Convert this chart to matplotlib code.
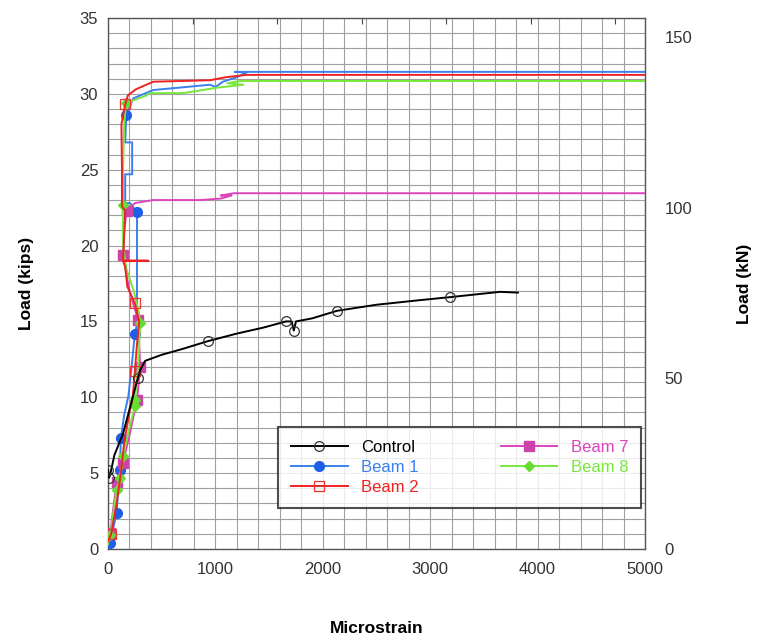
import matplotlib
matplotlib.use("Agg")
import matplotlib.pyplot as plt
import numpy as np

plt.rcParams['font.family'] = ['Liberation Sans', 'DejaVu Sans']

# ---------------- data (microstrain, kips) ----------------
control_x = [0, 10, 20, 60, 140, 200, 260, 280, 300, 345, 500, 700, 930, 1200, 1450,
             1657, 1710, 1730, 1750, 1900, 2132, 2500, 2900, 3184, 3450, 3650, 3817]
control_y = [5.2, 4.7, 4.9, 6.2, 7.6, 9.2, 10.8, 11.3, 11.8, 12.4, 12.8, 13.2, 13.7, 14.2, 14.6,
             15.0, 15.0, 14.4, 15.0, 15.2, 15.7, 16.1, 16.4, 16.6, 16.8, 16.95, 16.9]
control_marks = [0, 1, 7, 12, 15, 17, 20, 23]

beam1_x = [0, 20, 80, 110, 120, 150, 190, 220, 250, 270, 270, 270, 205, 160, 160, 225, 225,
           160, 170, 235, 420, 950, 1000, 1070, 1200, 1290, 1180, 5000]
beam1_y = [0.2, 0.4, 2.4, 5.2, 7.3, 8.8, 10.1, 12.0, 14.2, 14.8, 21.3, 22.2, 22.8, 22.8, 24.7, 24.7, 26.8,
           26.8, 28.6, 29.7, 30.25, 30.6, 30.45, 30.8, 31.1, 31.4, 31.45, 31.45]
beam1_marks = [1, 2, 3, 4, 8, 11, 18]

beam2_x = [0, 30, 80, 120, 150, 200, 230, 250, 270, 290, 250, 180, 160, 140, 375, 140, 150,
           160, 130, 130, 125, 160, 185, 260, 420, 950, 1100, 1290, 5000]
beam2_y = [0.5, 1.0, 3.0, 5.0, 7.0, 9.0, 10.0, 11.7, 13.5, 15.0, 16.2, 17.3, 18.6, 19.0, 19.0, 19.0, 20.5,
           22.3, 22.6, 25.0, 28.0, 29.3, 29.9, 30.3, 30.8, 30.9, 31.1, 31.25, 31.25]
beam2_marks = [1, 7, 10, 21]

beam7_x = [0, 20, 80, 140, 200, 270, 300, 280, 200, 140, 150, 175, 250, 420, 860, 1050, 1150,
           1050, 1170, 5000]
beam7_y = [0.5, 1.05, 4.4, 5.7, 7.5, 9.8, 12.0, 15.1, 17.0, 19.4, 21.0, 22.3, 22.8, 23.0, 23.0, 23.1, 23.3,
           23.3, 23.45, 23.45]
beam7_marks = [1, 2, 3, 5, 6, 7, 9, 11]

beam8_x = [0, 20, 80, 115, 140, 200, 250, 250, 280, 300, 290, 240, 170, 140, 140, 140, 150,
           170, 360, 390, 700, 1010, 1260, 1110, 1230, 5000]
beam8_y = [0.3, 0.9, 3.9, 4.7, 6.1, 8.0, 9.4, 9.8, 12.0, 14.9, 15.5, 17.0, 18.5, 20.0, 22.7, 25.0, 28.0,
           29.4, 29.9, 30.05, 30.05, 30.4, 30.6, 30.7, 30.85, 30.85]
beam8_marks = [1, 2, 3, 4, 6, 7, 9, 14, 17]

KIP_TO_KN = 4.44822
xlim = (0, 5000)
ylim = (0, 35)
y_ticks = [0, 5, 10, 15, 20, 25, 30, 35]
x_ticks = [0, 1000, 2000, 3000, 4000, 5000]
kn_ticks = [0, 50, 100, 150]

# ---------------- figure ----------------
W, H = 759, 643
fig = plt.figure(figsize=(W / 100, H / 100), dpi=100)
ax = fig.add_axes([108 / W, 1 - 549 / H, (645 - 108) / W, (549 - 18) / H])

lw = 1.4
ax.plot(control_x, control_y, color='black', lw=lw, marker='o', mfc='none', mec='#333333',
        ms=7, mew=0.9, markevery=control_marks, label='Control', zorder=5)
ax.plot(beam1_x, beam1_y, color='#3a7ff0', lw=lw, marker='o', mfc='#1f5fe6', mec='#1f5fe6',
        ms=7, markevery=beam1_marks, label='Beam 1', zorder=3)
ax.plot(beam2_x, beam2_y, color='#ee2222', lw=lw, marker='s', mfc='none', mec='#ee3333',
        ms=7, mew=0.9, markevery=beam2_marks, label='Beam 2', zorder=4)
ax.plot(beam7_x, beam7_y, color='#dd44bb', lw=lw, marker='s', mfc='#cc44aa', mec='#cc44aa',
        ms=7, markevery=beam7_marks, label='Beam 7', zorder=3)
ax.plot(beam8_x, beam8_y, color='#77e83a', lw=lw, marker='D', mfc='#66dd33', mec='#66dd33',
        ms=5, markevery=beam8_marks, label='Beam 8', zorder=3)

ax.set_xlim(*xlim)
ax.set_ylim(*ylim)
ax.set_xticks(x_ticks)
ax.set_yticks(y_ticks)
ax.set_xticks(np.arange(0, 5001, 200), minor=True)
ax.set_yticks(np.arange(0, 36, 1), minor=True)
ax.grid(True, which='both', color='#a0a0a0', lw=0.8)
ax.set_axisbelow(True)
ax.tick_params(which='both', direction='in', length=0, labelsize=12, colors='#333333', pad=7)
ax.tick_params(axis='x', pad=9)
for s in ax.spines.values():
    s.set_color('#555555')
    s.set_linewidth(1.0)

ax.set_xlabel('Microstrain', fontsize=12.5, fontweight='bold', labelpad=32)
ax.set_ylabel('Load (kips)', fontsize=12.5, fontweight='bold')
ax.yaxis.set_label_coords(-0.137, 0.5)

# right axis in kN
ax2 = ax.twinx()
ax2.set_ylim(ylim[0] * KIP_TO_KN, ylim[1] * KIP_TO_KN)
ax2.set_yticks(kn_ticks)
ax2.tick_params(direction='in', length=0, labelsize=12, colors='#333333', pad=14)
ax2.set_ylabel('Load (kN)', fontsize=12.5, fontweight='bold')
ax2.yaxis.set_label_coords(1.172, 0.5)
for s in ax2.spines.values():
    s.set_visible(False)

# top small ticks (secondary unit)
sec = ax.secondary_xaxis('top', functions=(lambda x: x / 787.4, lambda x: x * 787.4))
sec.set_xticks([1, 2, 3, 4, 5, 6])
sec.tick_params(direction='in', length=4, labeltop=False, color='#444444')
sec.spines['top'].set_visible(False)

leg = ax.legend(ncol=2, loc='lower left', bbox_to_anchor=(0.3166, 0.0772, 0.676, 0.1526),
                mode='expand', fontsize=12, frameon=True, fancybox=False, edgecolor='#222222',
                handlelength=3.4, labelspacing=0.3, borderpad=0.77, borderaxespad=0)
leg.get_frame().set_linewidth(1.5)
for t, line in zip(leg.get_texts(), leg.get_lines()):
    t.set_color(line.get_color())

fig.savefig('out.png', dpi=100)
